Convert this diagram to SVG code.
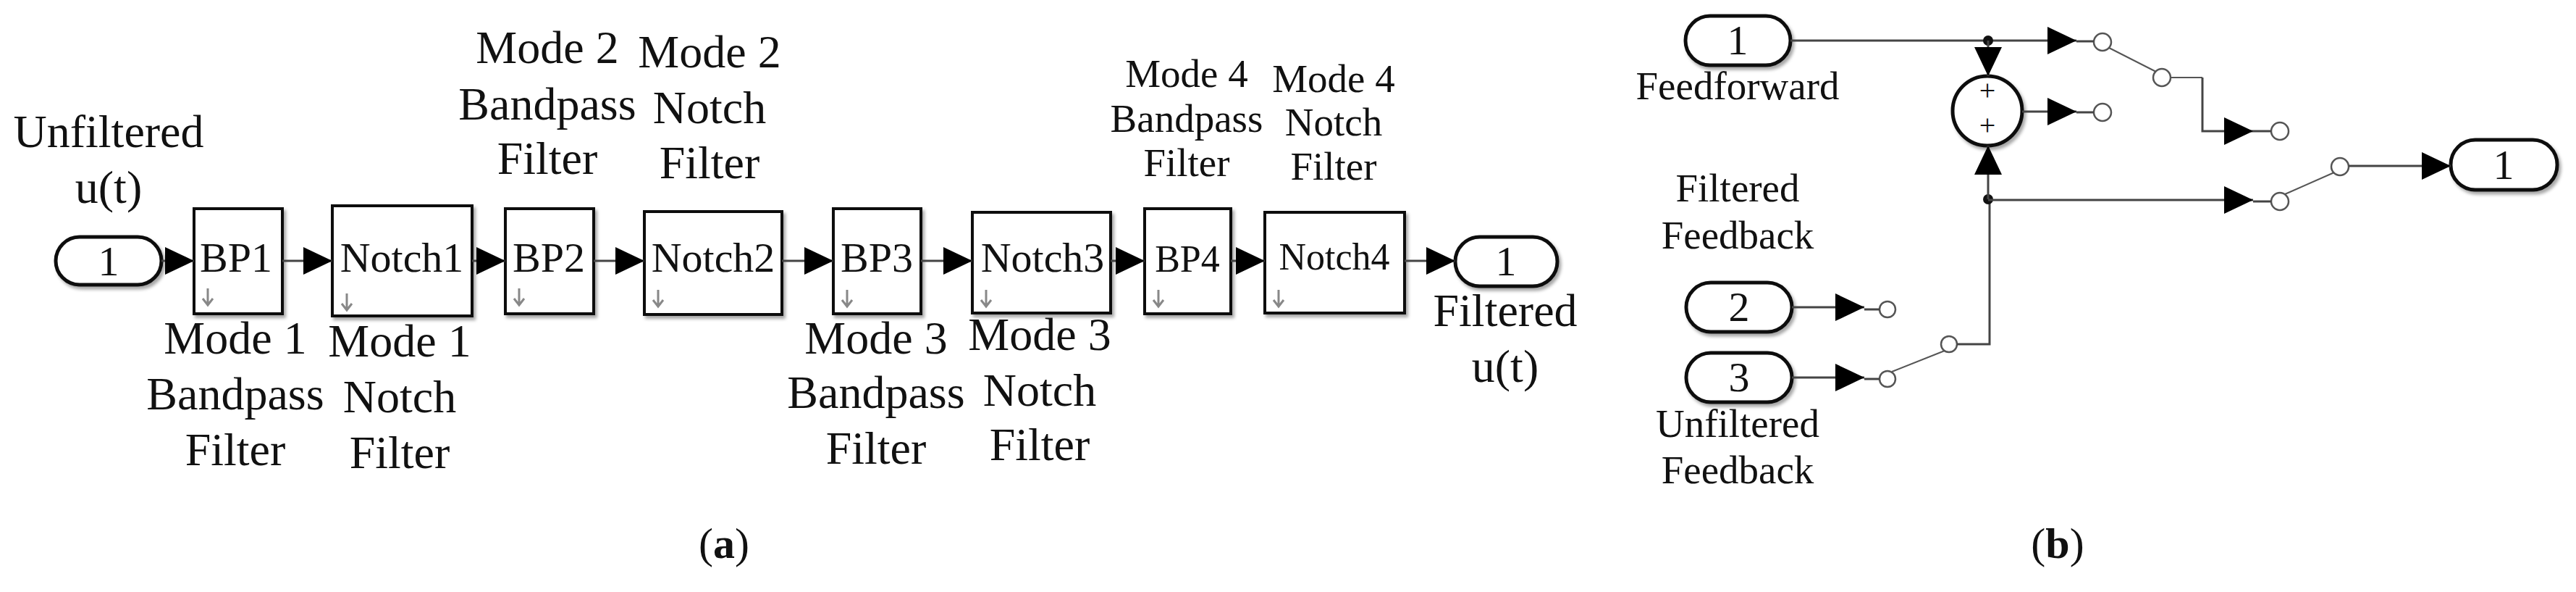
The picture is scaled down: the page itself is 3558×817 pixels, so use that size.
<svg xmlns="http://www.w3.org/2000/svg" width="3558" height="817" viewBox="0 0 3558 817">
<style>
text{font-family:"Liberation Serif","Times New Roman",serif;fill:#111}
.lbl{font-size:64px;text-anchor:middle}
.sm{font-size:55px;text-anchor:middle}
.blk{font-size:58px;text-anchor:middle}
.port{fill:#fff;stroke:#111;stroke-width:5}
.box{fill:#fff;stroke:#111;stroke-width:4}
.w{fill:none;stroke:#444;stroke-width:3}
.sw{fill:#fff;stroke:#555;stroke-width:2.5}
.lev{fill:none;stroke:#555;stroke-width:2}
.dn{fill:none;stroke:#888;stroke-width:3}
</style>
<defs>
<marker id="ar" markerUnits="userSpaceOnUse" markerWidth="42" markerHeight="40" refX="40" refY="19" orient="auto">
<path d="M0,0 L40,19 L0,38 z" fill="#000"/>
</marker>
<filter id="sh" x="-10%" y="-10%" width="130%" height="130%"><feDropShadow dx="3" dy="4" stdDeviation="2" flood-color="#000" flood-opacity="0.35"/></filter>
</defs>

<!-- Panel (a) -->
<g id="a-in"><rect class="port" filter="url(#sh)" x="77" y="327" width="146" height="66" rx="33"/><text class="blk" x="150" y="380">1</text>
<text class="lbl" x="150" y="203">Unfiltered</text><text class="lbl" x="150" y="280">u(t)</text></g>

<g id="bp1"><rect class="box" filter="url(#sh)" x="268" y="288" width="122" height="145"/><text class="blk" x="326" y="375">BP1</text><path class="dn" d="M287,398 v22 m-7,-8 l7,9 l7,-9"/>
<text class="lbl" x="325" y="488">Mode 1</text><text class="lbl" x="325" y="565">Bandpass</text><text class="lbl" x="325" y="642">Filter</text></g>

<g id="notch1"><rect class="box" filter="url(#sh)" x="459" y="284" width="193" height="152"/><text class="blk" x="555" y="375">Notch1</text><path class="dn" d="M479,405 v22 m-7,-8 l7,9 l7,-9"/>
<text class="lbl" x="552" y="492">Mode 1</text><text class="lbl" x="552" y="569">Notch</text><text class="lbl" x="552" y="646">Filter</text></g>

<g id="bp2"><rect class="box" filter="url(#sh)" x="698" y="288" width="122" height="145"/><text class="blk" x="758" y="375">BP2</text><path class="dn" d="M717,398 v22 m-7,-8 l7,9 l7,-9"/>
<text class="lbl" x="756" y="87">Mode 2</text><text class="lbl" x="756" y="165">Bandpass</text><text class="lbl" x="756" y="240">Filter</text></g>

<g id="notch2"><rect class="box" filter="url(#sh)" x="890" y="292" width="190" height="142"/><text class="blk" x="985" y="375">Notch2</text><path class="dn" d="M909,400 v22 m-7,-8 l7,9 l7,-9"/>
<text class="lbl" x="980" y="93">Mode 2</text><text class="lbl" x="980" y="170">Notch</text><text class="lbl" x="980" y="246">Filter</text></g>

<g id="bp3"><rect class="box" filter="url(#sh)" x="1151" y="288" width="121" height="145"/><text class="blk" x="1211" y="375">BP3</text><path class="dn" d="M1170,400 v22 m-7,-8 l7,9 l7,-9"/>
<text class="lbl" x="1210" y="488">Mode 3</text><text class="lbl" x="1210" y="563">Bandpass</text><text class="lbl" x="1210" y="640">Filter</text></g>

<g id="notch3"><rect class="box" filter="url(#sh)" x="1343" y="293" width="191" height="139"/><text class="blk" x="1440" y="375">Notch3</text><path class="dn" d="M1362,400 v22 m-7,-8 l7,9 l7,-9"/>
<text class="lbl" x="1436" y="483">Mode 3</text><text class="lbl" x="1436" y="560">Notch</text><text class="lbl" x="1436" y="635">Filter</text></g>

<g id="bp4"><rect class="box" filter="url(#sh)" x="1581" y="288" width="119" height="145"/><text class="blk" x="1640" y="375" style="font-size:52px">BP4</text><path class="dn" d="M1600,400 v22 m-7,-8 l7,9 l7,-9"/>
<text class="sm" x="1639" y="120">Mode 4</text><text class="sm" x="1639" y="182">Bandpass</text><text class="sm" x="1639" y="243">Filter</text></g>

<g id="notch4"><rect class="box" filter="url(#sh)" x="1747" y="293" width="193" height="139"/><text class="blk" x="1843" y="372" style="font-size:52px">Notch4</text><path class="dn" d="M1766,400 v22 m-7,-8 l7,9 l7,-9"/>
<text class="sm" x="1842" y="127">Mode 4</text><text class="sm" x="1842" y="187">Notch</text><text class="sm" x="1842" y="248">Filter</text></g>

<g id="a-out"><rect class="port" filter="url(#sh)" x="2010" y="327" width="141" height="68" rx="34"/><text class="blk" x="2080" y="380">1</text>
<text class="lbl" x="2079" y="450">Filtered</text><text class="lbl" x="2079" y="527">u(t)</text></g>

<g id="a-conn">
<path class="w" d="M223,360 H268" marker-end="url(#ar)"/>
<path class="w" d="M390,360 H459" marker-end="url(#ar)"/>
<path class="w" d="M652,360 H698" marker-end="url(#ar)"/>
<path class="w" d="M820,360 H890" marker-end="url(#ar)"/>
<path class="w" d="M1080,360 H1151" marker-end="url(#ar)"/>
<path class="w" d="M1272,360 H1343" marker-end="url(#ar)"/>
<path class="w" d="M1534,360 H1581" marker-end="url(#ar)"/>
<path class="w" d="M1700,360 H1747" marker-end="url(#ar)"/>
<path class="w" d="M1940,360 H2010" marker-end="url(#ar)"/>
</g>
<text x="1000" y="770" style="font-size:60px;text-anchor:middle">(<tspan font-weight="bold">a</tspan>)</text>

<!-- Panel (b) -->
<g id="b-in1"><rect class="port" filter="url(#sh)" x="2328" y="22" width="145" height="68" rx="34"/><text class="blk" x="2400" y="75">1</text><text class="sm" x="2400" y="137">Feedforward</text></g>
<g id="b-in2"><rect class="port" filter="url(#sh)" x="2329" y="390" width="146" height="68" rx="34"/><text class="blk" x="2402" y="443">2</text><text class="sm" x="2400" y="278">Filtered</text><text class="sm" x="2400" y="343">Feedback</text></g>
<g id="b-in3"><rect class="port" filter="url(#sh)" x="2329" y="487" width="146" height="68" rx="34"/><text class="blk" x="2402" y="540">3</text><text class="sm" x="2400" y="603">Unfiltered</text><text class="sm" x="2400" y="667">Feedback</text></g>
<g id="sum"><circle cx="2745" cy="153" r="48" fill="#fff" stroke="#111" stroke-width="5" filter="url(#sh)"/><text x="2745" y="138" style="font-size:40px;text-anchor:middle">+</text><text x="2745" y="186" style="font-size:40px;text-anchor:middle">+</text></g>
<g id="b-out"><rect class="port" filter="url(#sh)" x="3385" y="193" width="147" height="69" rx="34"/><text class="blk" x="3458" y="247">1</text></g>
<g id="switches">
<circle class="sw" cx="2904" cy="58" r="12"/><circle class="sw" cx="2986" cy="107" r="12"/><path class="lev" d="M2913,66 L2978,99 M2998,107 H3042"/>
<circle class="sw" cx="2904" cy="155" r="12"/>
<circle class="sw" cx="3149" cy="181" r="12"/>
<circle class="sw" cx="3149" cy="278" r="12"/><circle class="sw" cx="3232" cy="230" r="12"/><path class="lev" d="M3156,268 L3224,238"/>
<circle class="sw" cx="2607" cy="427" r="11"/>
<circle class="sw" cx="2607" cy="523" r="11"/><circle class="sw" cx="2692" cy="475" r="11"/><path class="lev" d="M2613,513 L2686,484"/>
</g>
<g id="b-conn">
<path class="w" d="M2473,56 H2868" marker-end="url(#ar)"/>
<path class="w" d="M2868,57 H2892"/>
<circle cx="2746" cy="56" r="7" fill="#111"/>
<path class="w" d="M2746,56 V105" marker-end="url(#ar)"/>
<path class="w" d="M2793,154 H2868" marker-end="url(#ar)"/>
<path class="w" d="M2868,155 H2892"/>
<path class="w" d="M3042,107 V181 H3112" marker-end="url(#ar)"/>
<path class="w" d="M3112,181 H3137"/>
<path class="w" d="M2703,475 H2748 V275"/>
<circle cx="2746" cy="275" r="7" fill="#111"/>
<path class="w" d="M2746,275 V201" marker-end="url(#ar)"/>
<path class="w" d="M2746,276 H3112" marker-end="url(#ar)"/>
<path class="w" d="M3112,278 H3137"/>
<path class="w" d="M3244,229 H3385" marker-end="url(#ar)"/>
<path class="w" d="M2475,424 H2575" marker-end="url(#ar)"/>
<path class="w" d="M2575,427 H2596"/>
<path class="w" d="M2475,521 H2575" marker-end="url(#ar)"/>
<path class="w" d="M2575,523 H2596"/>
</g>
<text x="2842" y="770" style="font-size:60px;text-anchor:middle">(<tspan font-weight="bold">b</tspan>)</text>
</svg>
